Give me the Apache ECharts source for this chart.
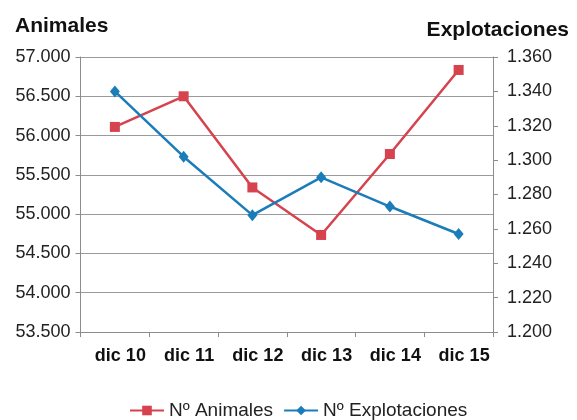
<!DOCTYPE html>
<html>
<head>
<meta charset="utf-8">
<script src="https://cdn.jsdelivr.net/npm/echarts@6/dist/echarts.min.js"></script>
<style>
  html, body { margin: 0; padding: 0; background: #fff; }
  #chart { width: 577px; height: 420px; }
</style>
</head>
<body>
<div id="chart"></div>
<script>
const categories = ['dic 10', 'dic 11', 'dic 12', 'dic 13', 'dic 14', 'dic 15'];
const animales = [56110, 56500, 55340, 54735, 55765, 56835];
const explotaciones = [1340, 1302, 1268, 1290, 1273, 1257];

const FONT = '"Liberation Sans", Arial, sans-serif';

// 57000 -> "57.000"
function miles(v) {
  const s = String(Math.round(v));
  return s.length > 3 ? s.slice(0, -3) + '.' + s.slice(-3) : s;
}

const chart = echarts.init(document.getElementById('chart'));

const option = {
  animation: false,
  textStyle: { fontFamily: FONT },
  title: [
    {
      text: 'Animales',
      left: 10,
      top: 11,
      textStyle: { fontFamily: FONT, fontSize: 21, fontWeight: 'bold', color: '#111' }
    },
    {
      text: 'Explotaciones',
      right: 3,
      top: 15,
      textStyle: { fontFamily: FONT, fontSize: 21, fontWeight: 'bold', color: '#111' }
    }
  ],
  legend: {
    left: 124,
    top: 396,
    itemWidth: 34,
    itemHeight: 12,
    itemGap: 10,
    textStyle: { fontFamily: FONT, fontSize: 19, color: '#222' },
    data: ['Nº Animales', 'Nº Explotaciones']
  },
  grid: {
    left: 80.5,
    right: 84,
    top: 57,
    bottom: 88
  },
  xAxis: {
    type: 'category',
    data: categories,
    boundaryGap: true,
    axisLine: { lineStyle: { color: '#8c8c8c', width: 1 } },
    axisTick: { show: true, length: 5, lineStyle: { color: '#8c8c8c' } },
    axisLabel: {
      margin: 15,
      fontFamily: FONT,
      fontSize: 18,
      fontWeight: 'bold',
      color: '#111',
      padding: [0, 0, 0, 11]
    }
  },
  yAxis: [
    {
      type: 'value',
      min: 53500,
      max: 57000,
      interval: 500,
      axisLine: { show: true, lineStyle: { color: '#8c8c8c' } },
      axisTick: { show: true, length: 5, lineStyle: { color: '#8c8c8c' } },
      splitLine: { show: true, lineStyle: { color: '#9a9a9a', width: 1 } },
      axisLabel: {
        margin: 10,
        fontFamily: FONT,
        fontSize: 18,
        color: '#222',
        formatter: miles
      }
    },
    {
      type: 'value',
      min: 1200,
      max: 1360,
      interval: 20,
      axisLine: { show: true, lineStyle: { color: '#8c8c8c' } },
      axisTick: { show: true, length: 5, lineStyle: { color: '#8c8c8c' } },
      splitLine: { show: false },
      axisLabel: {
        margin: 14,
        fontFamily: FONT,
        fontSize: 18,
        color: '#222',
        formatter: miles
      }
    }
  ],
  series: [
    {
      name: 'Nº Animales',
      type: 'line',
      yAxisIndex: 0,
      data: animales,
      symbol: 'rect',
      symbolSize: 10,
      lineStyle: { color: '#d6434f', width: 2.5 },
      itemStyle: { color: '#d6434f' }
    },
    {
      name: 'Nº Explotaciones',
      type: 'line',
      yAxisIndex: 1,
      data: explotaciones,
      symbol: 'diamond',
      symbolSize: [10, 12],
      lineStyle: { color: '#1a7db9', width: 2.5 },
      itemStyle: { color: '#1a7db9' }
    }
  ]
};

chart.setOption(option);
</script>
</body>
</html>
